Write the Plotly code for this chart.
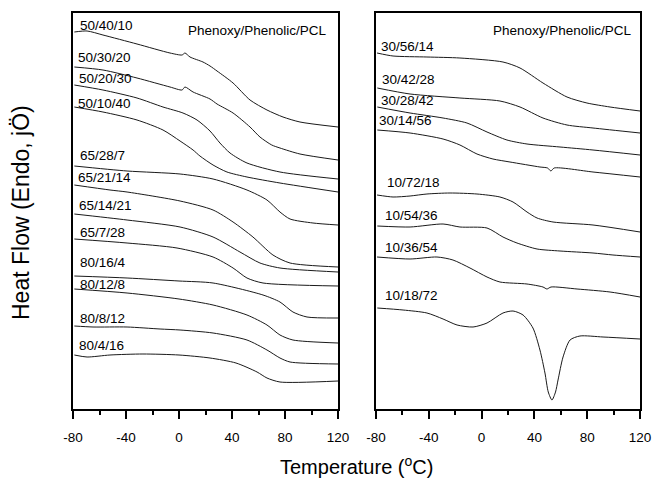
import plotly.graph_objects as go

# ---------------- data (temperature in deg C, heat flow in arbitrary offset units) -------------
left_labels = ["50/40/10", "50/30/20", "50/20/30", "50/10/40",
               "65/28/7", "65/21/14", "65/14/21", "65/7/28",
               "80/16/4", "80/12/8", "80/8/12", "80/4/16"]

left_T = [
    [-79, -69.4, -57.4, -31.7, -6.8, 2.3, 4.5, 8.3, 18.1, 23.4, 28.7, 40.8, 53.6, 66.4, 78.5, 91.3, 120],
    [-79, -57.4, -31.7, -6.8, 2.3, 4.5, 10.6, 23.4, 28.7, 40.8, 53.6, 61.1, 70, 76.2, 91.3, 120],
    [-79, -57.4, -31.7, -12.1, 3, 13.6, 23.4, 30.9, 38.5, 51.3, 76.2, 120],
    [-79, -57.4, -31.7, -12.1, 0.8, 10.6, 15.8, 25.7, 36.2, 51.3, 76.2, 120],
    [-79, -39.2, 0.8, 25.7, 51.3, 66.4, 76.2, 83.8, 101.1, 120],
    [-79, -52.1, -39.2, 0.8, 25.7, 40.8, 55.8, 70.9, 83.8, 120],
    [-79, -39.2, 0.8, 25.7, 46, 61.1, 76.2, 120],
    [-79, -39.2, -1.5, 25.7, 40.8, 51.3, 63.4, 120],
    [-79, -39.2, 0, 25.7, 63.4, 76.2, 86, 96.6, 120],
    [-79, -39.2, 0, 25.7, 51.3, 66.4, 76.2, 86, 120],
    [-79, -64.9, -39.2, -14.3, 0.8, 25.7, 51.3, 66.4, 76.2, 83.8, 120],
    [-79, -69.4, -52.1, -27.2, 0, 23.4, 43, 58.9, 66.4, 76.2, 120],
]
left_HF = [
    [377, 378, 374, 365, 356, 354, 356, 352, 347, 343, 338, 326, 309, 299, 292, 287, 282],
    [342, 339, 331, 322, 319, 322, 317, 310, 305, 296, 282, 272, 264, 261, 255, 249],
    [324, 319, 311, 302, 296, 289, 278, 266, 256, 246, 237, 230],
    [302, 297, 289, 279, 268, 259, 253, 244, 237, 232, 226, 217],
    [243, 238, 235, 230, 219, 209, 197, 190, 186, 184],
    [224, 219, 217, 208, 199, 187, 172, 154, 146, 142],
    [195, 189, 182, 172, 157, 146, 141, 137],
    [170, 166, 161, 152, 141, 131, 126, 123],
    [133, 131, 128, 126, 114, 107, 97, 92, 91],
    [120, 116, 110, 104, 94, 84, 74, 69, 66],
    [83, 82, 82, 80, 79, 76, 69, 59, 51, 47, 45],
    [54, 52, 54, 55, 54, 51, 46, 37, 31, 27, 28],
]
left_label_T = [-76.2, -77.7, -77, -77.7, -76.2, -77.7, -77, -76.2, -76.2, -76.2, -76.2, -77]
left_label_HF = [384, 352, 331, 306, 254, 232, 204, 177, 147, 125, 91, 64]

right_labels = ["30/56/14", "30/42/28", "30/28/42", "30/14/56",
                "10/72/18", "10/54/36", "10/36/54", "10/18/72"]
right_T = [
    [-79.2, -67.1, -41.4, -16.4, 16.2, 29.1, 46.5, 64.7, 79.8, 97.3, 120],
    [-79, -54.2, -16.4, 13.9, 29.1, 46.5, 64.7, 84.4, 120],
    [-79, -54.2, -29.2, -11.1, 4.1, 19.2, 34.4, 59.4, 84.4, 120],
    [-79, -54.2, -29.2, -16.4, -3.5, 8.6, 21.5, 44.2, 50, 52.5, 55, 84.4, 120],
    [-79.2, -67.1, -54.2, -41.4, -23.9, -3.5, 13.9, 23.8, 34.4, 42, 54.1, 84.4, 120],
    [-79, -54.2, -29.2, -16.4, 4.1, 16.2, 26.8, 42, 59.4, 84.4, 99.5, 120],
    [-79.2, -54.2, -33.8, -21.7, -8.8, 4.1, 13.9, 34.4, 46.5, 49.5, 52.6, 72.3, 97.3, 120],
    [-79, -59.5, -41.4, -29.2, -18.6, -6.5, 4.1, 16.2, 23.8, 31.4, 38.9, 44.2, 48, 50.5,
     53.3, 56, 57.9, 61.7, 67, 74.5, 92, 120],
]
right_HF = [
    [356, 353, 352, 351, 347, 341, 326, 312, 306, 302, 298],
    [321, 315, 311, 308, 302, 291, 284, 281, 276],
    [302, 296, 291, 286, 277, 269, 265, 262, 259, 254],
    [279, 276, 270, 264, 255, 250, 247, 242, 241, 238, 241, 237, 232],
    [214, 212, 213, 215, 216, 215, 212, 207, 197, 191, 187, 184, 177],
    [183, 182, 185, 182, 181, 172, 166, 160, 158, 156, 154, 152],
    [152, 150, 152, 149, 141, 132, 127, 125, 122, 120, 122, 120, 117, 112],
    [101, 99, 96, 90, 84, 82, 86, 96, 98, 94, 81, 59, 36, 17, 9, 17, 29, 52, 69, 73, 72, 70],
]
right_label_T = [-77.7, -77, -77.7, -79.2, -73.2, -74.7, -74.7, -74.7]
right_label_HF = [363, 330, 309, 289, 227, 194, 162, 114]

x_ticks = [-80, -40, 0, 40, 80, 120]
x_tick_text = ["-80", "-40", "0", "40", "80", "120"]
panel_title = "Phenoxy/Phenolic/PCL"

# ---------------- figure -------------
W, H = 654, 478
FONT = "Liberation Sans, Arial, sans-serif"


def px_x(p):
    return p / W


def px_y(p):
    return 1 - p / H


fig = go.Figure()

for T, hf, name in zip(left_T, left_HF, left_labels):
    fig.add_trace(go.Scatter(x=T, y=hf, mode="lines", name=name, xaxis="x", yaxis="y",
                             hoverinfo="skip",
                             line=dict(color="#1a1a1a", width=1, shape="spline", smoothing=0.7)))
for T, hf, name in zip(right_T, right_HF, right_labels):
    fig.add_trace(go.Scatter(x=T, y=hf, mode="lines", name=name, xaxis="x2", yaxis="y2",
                             hoverinfo="skip",
                             line=dict(color="#1a1a1a", width=1, shape="spline", smoothing=0.7)))

annotations = []
for lab, t, h in zip(left_labels, left_label_T, left_label_HF):
    annotations.append(dict(x=t, y=h, xref="x", yref="y", text=lab, showarrow=False,
                            xanchor="left", yanchor="middle",
                            font=dict(family=FONT, size=13.5, color="black")))
for lab, t, h in zip(right_labels, right_label_T, right_label_HF):
    annotations.append(dict(x=t, y=h, xref="x2", yref="y2", text=lab, showarrow=False,
                            xanchor="left", yanchor="middle",
                            font=dict(family=FONT, size=13.5, color="black")))

annotations.append(dict(x=px_x(329), y=px_y(31), xref="paper", yref="paper", text=panel_title,
                        showarrow=False, xanchor="right", yanchor="middle",
                        font=dict(family=FONT, size=13.5, color="black")))
annotations.append(dict(x=px_x(634), y=px_y(31), xref="paper", yref="paper", text=panel_title,
                        showarrow=False, xanchor="right", yanchor="middle",
                        font=dict(family=FONT, size=13.5, color="black")))
annotations.append(dict(x=px_x(356.5), y=px_y(465), xref="paper", yref="paper",
                        text="Temperature (<sup>o</sup>C)", showarrow=False,
                        xanchor="center", yanchor="middle",
                        font=dict(family=FONT, size=20, color="black")))
annotations.append(dict(x=px_x(21), y=px_y(213), xref="paper", yref="paper",
                        text="Heat Flow (Endo, jÖ)", showarrow=False, textangle=-90,
                        xanchor="center", yanchor="middle",
                        font=dict(family=FONT, size=23, color="black")))

xax = dict(range=[-80, 120], tickvals=x_ticks, ticktext=x_tick_text, ticks="outside",
           ticklen=8, tickwidth=1.5, automargin=False, fixedrange=True,
           tickcolor="black", showline=True, linewidth=1.5, linecolor="black", mirror=True,
           showgrid=False, zeroline=False, ticklabelstandoff=7,
           tickfont=dict(family=FONT, size=13.5, color="black"),
           minor=dict(dtick=20, tick0=-80, ticks="outside", ticklen=4, tickwidth=1.5,
                      tickcolor="black", showgrid=False))
yax = dict(range=[0, 396], showline=True, linewidth=1.5, linecolor="black", mirror=True,
           automargin=False, fixedrange=True,
           showgrid=False, zeroline=False, showticklabels=False, ticks="")

y_dom = [px_y(409), px_y(13)]
fig.update_layout(
    template="none",
    width=W, height=H, margin=dict(l=0, r=0, t=0, b=0, pad=0),
    paper_bgcolor="white", plot_bgcolor="white", showlegend=False,
    xaxis=dict(xax, domain=[px_x(73), px_x(338)], anchor="y"),
    yaxis=dict(yax, domain=y_dom, anchor="x"),
    xaxis2=dict(xax, domain=[px_x(376), px_x(640)], anchor="y2"),
    yaxis2=dict(yax, domain=y_dom, anchor="x2"),
    annotations=annotations,
)

# remove the default page margin so the figure fills the 654x478 window exactly
fig.write_html("out.html",
               config={"displayModeBar": False},
               post_script="document.body.style.margin='0px';document.body.style.overflow='hidden';")
